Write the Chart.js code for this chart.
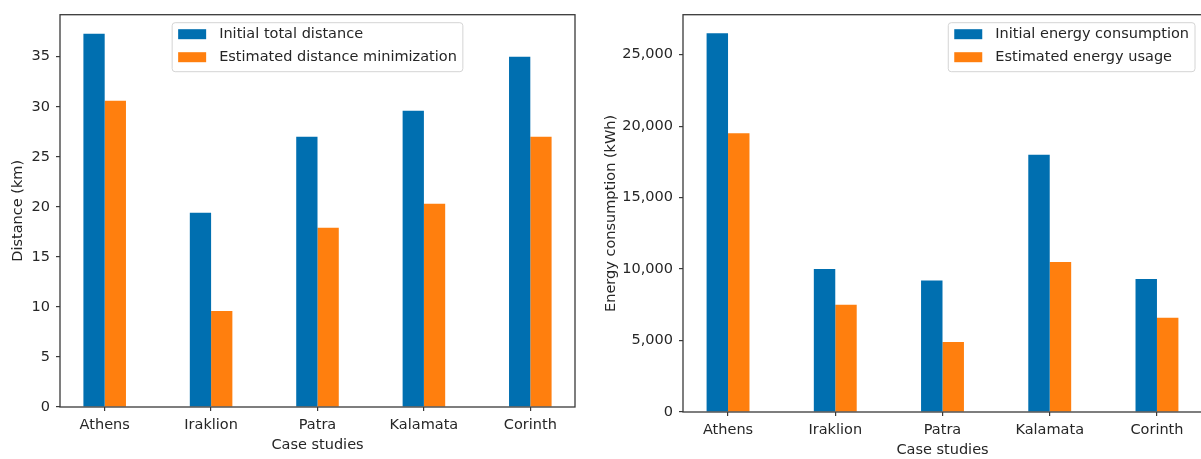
<!DOCTYPE html>
<html>
<head>
<meta charset="utf-8">
<script src="https://cdn.jsdelivr.net/npm/chart.js@4.4.0/dist/chart.umd.min.js"></script>
<style>
  html, body { margin: 0; padding: 0; background: #fff; overflow: hidden; }
  #wrap { position: relative; width: 1201px; height: 459px; overflow: hidden; }
  #distance { position: absolute; left: 0; top: 0; }
  #energy { position: absolute; left: 600px; top: 0; }
</style>
</head>
<body>
<div id="wrap">
  <canvas id="distance" width="600" height="459"></canvas>
  <canvas id="energy" width="610" height="459"></canvas>
</div>
<script>
const cities = ['Athens', 'Iraklion', 'Patra', 'Kalamata', 'Corinth'];

const distanceInitial = [37.3, 19.4, 27.0, 29.6, 35.0];
const distanceEstimated = [30.6, 9.6, 17.9, 20.3, 27.0];
const distanceTicks = [0, 5, 10, 15, 20, 25, 30, 35];

const energyInitial = [26500, 10000, 9200, 18000, 9300];
const energyEstimated = [19500, 7500, 4900, 10500, 6600];
const energyTicks = [0, 5000, 10000, 15000, 20000, 25000];

const BLUE = '#006fb0';
const ORANGE = '#ff7f0e';
const TEXT = '#262626';
const FONT_FAMILY = '"DejaVu Sans", sans-serif';
const FONT_SIZE = 14.5;

Chart.defaults.font.family = FONT_FAMILY;
Chart.defaults.font.size = FONT_SIZE;
Chart.defaults.color = TEXT;

// frame around the plot area plus a boxed legend inside it
const boxLegend = {
  id: 'boxLegend',
  afterDraw(chart, args, opts) {
    const ctx = chart.ctx;
    const a = chart.chartArea;
    ctx.save();
    ctx.strokeStyle = '#3a3a3a';
    ctx.lineWidth = 1.3;
    ctx.strokeRect(a.left, a.top, a.right - a.left, a.bottom - a.top);

    ctx.font = FONT_SIZE + 'px ' + FONT_FAMILY;
    const sets = chart.data.datasets;
    const textW = Math.max(...sets.map(d => ctx.measureText(d.label).width));
    const w = 6 + 28 + 13 + textW + 6;
    const h = 49;
    const x = opts.align === 'right' ? a.right - 7 - w : (a.left + a.right) / 2 - w / 2;
    const y = a.top + 8;

    ctx.beginPath();
    ctx.roundRect(x, y, w, h, 3);
    ctx.fillStyle = 'rgba(255,255,255,0.8)';
    ctx.fill();
    ctx.strokeStyle = '#d4d4d4';
    ctx.lineWidth = 1;
    ctx.stroke();

    ctx.textBaseline = 'middle';
    sets.forEach((d, i) => {
      const cy = y + 11.5 + i * 23;
      ctx.fillStyle = d.backgroundColor;
      ctx.fillRect(x + 6, cy - 5, 28, 10);
      ctx.fillStyle = TEXT;
      ctx.fillText(d.label, x + 47, cy);
    });
    ctx.restore();
  }
};

function tickGrid() {
  return {
    display: true,
    drawOnChartArea: false,
    drawTicks: true,
    tickLength: 4,
    color: '#3a3a3a',
    lineWidth: 1.2,
    offset: false
  };
}

function buildChart(id, cfg) {
  return new Chart(document.getElementById(id), {
    type: 'bar',
    data: {
      datasets: [
        {
          label: cfg.labels[0],
          data: cities.map((c, i) => ({ x: i, y: cfg.series[0][i] })),
          backgroundColor: BLUE,
          borderWidth: 0
        },
        {
          label: cfg.labels[1],
          data: cities.map((c, i) => ({ x: i, y: cfg.series[1][i] })),
          backgroundColor: ORANGE,
          borderWidth: 0
        }
      ]
    },
    options: {
      responsive: false,
      animation: false,
      layout: { padding: cfg.padding },
      datasets: { bar: { categoryPercentage: 0.4, barPercentage: 1.0 } },
      plugins: {
        legend: { display: false },
        tooltip: { enabled: false },
        boxLegend: { align: cfg.legendAlign }
      },
      scales: {
        x: {
          type: 'linear',
          min: -0.42,
          max: 4.42,
          offset: false,
          afterBuildTicks: function(scale) {
            scale.ticks = cities.map((c, i) => ({ value: i }));
          },
          afterFit: function(scale) { scale.height = cfg.xHeight; },
          ticks: {
            padding: cfg.xTickPad,
            maxRotation: 0,
            autoSkip: false,
            callback: function(value) { return cities[value]; }
          },
          grid: tickGrid(),
          border: { display: false },
          title: {
            display: true,
            text: 'Case studies',
            padding: { top: 0, bottom: cfg.xTitlePad }
          }
        },
        y: {
          min: 0,
          max: cfg.yMax,
          afterBuildTicks: function(scale) {
            scale.ticks = cfg.yTicks.map(v => ({ value: v }));
          },
          afterFit: function(scale) { scale.width = cfg.yWidth; },
          ticks: {
            padding: 6,
            callback: function(value) { return value.toLocaleString('en-US'); }
          },
          grid: tickGrid(),
          border: { display: false },
          title: {
            display: true,
            text: cfg.yTitle,
            padding: { top: cfg.yTitlePad, bottom: 0 }
          }
        }
      }
    },
    plugins: [boxLegend]
  });
}

buildChart('distance', {
  labels: ['Initial total distance', 'Estimated distance minimization'],
  series: [distanceInitial, distanceEstimated],
  yTicks: distanceTicks,
  yMax: 39.2,
  yTitle: 'Distance (km)',
  legendAlign: 'center',
  padding: { top: 10, right: 25, bottom: 0, left: 0 },
  xHeight: 52,
  yWidth: 60,
  xTickPad: 6,
  xTitlePad: 5,
  yTitlePad: 10
});

buildChart('energy', {
  labels: ['Initial energy consumption', 'Estimated energy usage'],
  series: [energyInitial, energyEstimated],
  yTicks: energyTicks,
  yMax: 27800,
  yTitle: 'Energy consumption (kWh)',
  legendAlign: 'right',
  padding: { top: 12, right: 8, bottom: 0, left: 0 },
  xHeight: 47,
  yWidth: 83,
  xTickPad: 6,
  xTitlePad: 0,
  yTitlePad: 3
});
</script>
</body>
</html>
